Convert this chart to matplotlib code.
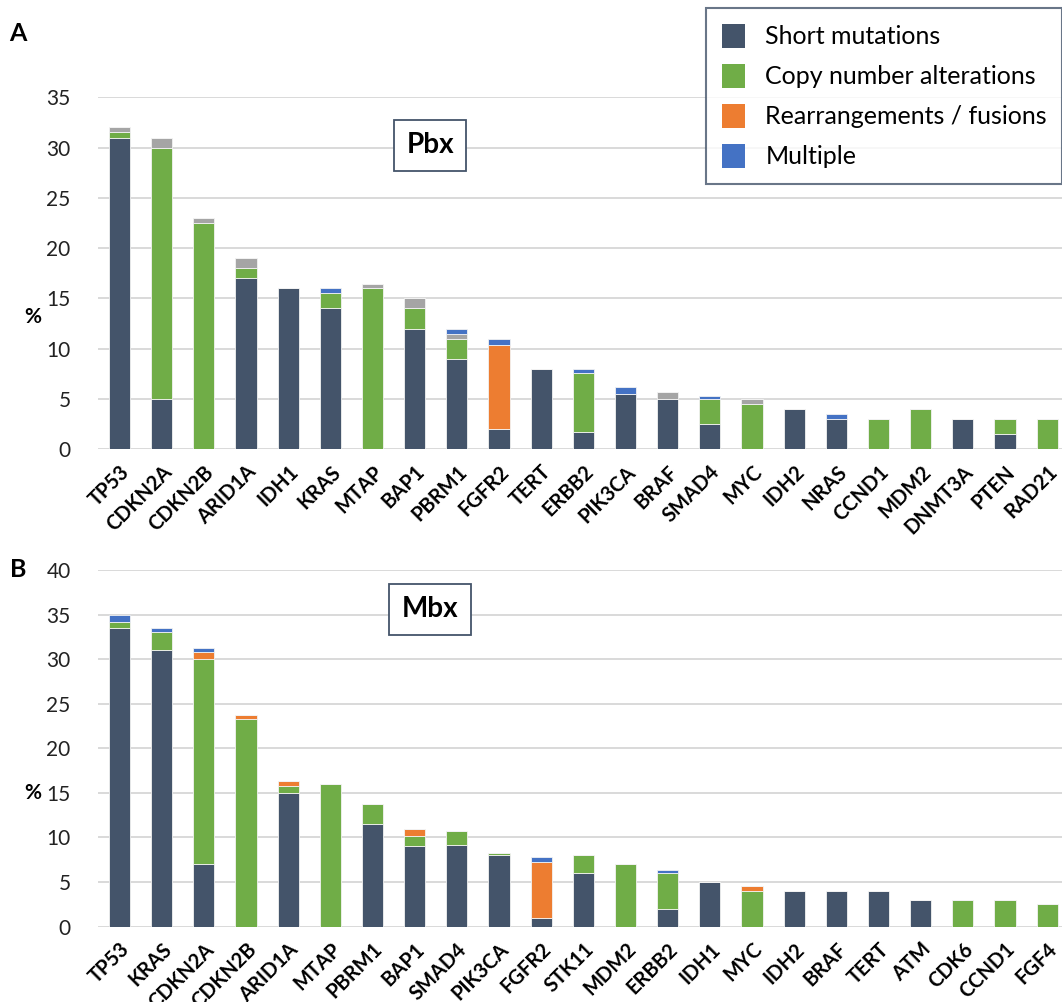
import numpy as np
import matplotlib
matplotlib.use("Agg")
import matplotlib.pyplot as plt
from matplotlib.patches import Patch

plt.rcParams["font.family"] = ["Lato", "DejaVu Sans"]

# colours used for each alteration type
C_SHORT = "#44546A"
C_CNA = "#70AD47"
C_REARR = "#ED7D31"
C_MULTI = "#4472C4"
C_OTHER = "#A5A5A5"
GRID = "#D9D9D9"

# panel A: Pbx
pbx_genes = ["TP53", "CDKN2A", "CDKN2B", "ARID1A", "IDH1", "KRAS", "MTAP", "BAP1",
             "PBRM1", "FGFR2", "TERT", "ERBB2", "PIK3CA", "BRAF", "SMAD4", "MYC",
             "IDH2", "NRAS", "CCND1", "MDM2", "DNMT3A", "PTEN", "RAD21"]
pbx_short = [31, 5, 0, 17, 16, 14, 0, 12, 9, 2, 8, 1.7, 5.5, 5, 2.5, 0, 4, 3, 0, 0, 3, 1.5, 0]
pbx_cna = [0.5, 25, 22.5, 1, 0, 1.5, 16, 2, 2, 0, 0, 5.9, 0, 0, 2.5, 4.5, 0, 0, 3, 4, 0, 1.5, 3]
pbx_rearr = [0, 0, 0, 0, 0, 0, 0, 0, 0, 8.4, 0, 0, 0, 0, 0, 0, 0, 0, 0, 0, 0, 0, 0]
pbx_other = [0.5, 1, 0.5, 1, 0, 0, 0.4, 1, 0.5, 0, 0, 0, 0, 0.7, 0, 0.5, 0, 0, 0, 0, 0, 0, 0]
pbx_multi = [0, 0, 0, 0, 0, 0.5, 0, 0, 0.5, 0.6, 0, 0.4, 0.7, 0, 0.25, 0, 0, 0.5, 0, 0, 0, 0, 0]

# panel B: Mbx
mbx_genes = ["TP53", "KRAS", "CDKN2A", "CDKN2B", "ARID1A", "MTAP", "PBRM1", "BAP1",
             "SMAD4", "PIK3CA", "FGFR2", "STK11", "MDM2", "ERBB2", "IDH1", "MYC",
             "IDH2", "BRAF", "TERT", "ATM", "CDK6", "CCND1", "FGF4"]
mbx_short = [33.5, 31, 7, 0, 15, 0, 11.5, 9, 9.2, 8, 1, 6, 0, 2, 5, 0, 4, 4, 4, 3, 0, 0, 0]
mbx_cna = [0.7, 2, 23, 23.25, 0.8, 16, 2.3, 1.2, 1.5, 0.25, 0, 2, 7, 4, 0, 4, 0, 0, 0, 0, 3, 3, 2.5]
mbx_rearr = [0, 0, 0.8, 0.5, 0.5, 0, 0, 0.7, 0, 0, 6.3, 0, 0, 0, 0, 0.6, 0, 0, 0, 0, 0, 0, 0]
mbx_other = [0] * 23
mbx_multi = [0.7, 0.5, 0.5, 0, 0, 0, 0, 0, 0, 0, 0.5, 0, 0, 0.3, 0, 0, 0, 0, 0, 0, 0, 0, 0]


def stacked(ax, genes, layers, ymax, step, title, title_xy, letter, letter_y):
    x = np.arange(len(genes))
    bottom = np.zeros(len(genes))
    for vals, col in layers:
        vals = np.asarray(vals, dtype=float)
        ax.bar(x, vals, 0.5, bottom=bottom, color=col, edgecolor="#F2F2F2",
               linewidth=0.6, zorder=3)
        bottom += vals
    ax.set_xlim(-0.5, len(genes) - 0.5)
    ax.set_ylim(0, ymax)
    ax.set_yticks(np.arange(0, ymax + 1, step))
    ax.yaxis.grid(True, color=GRID, linewidth=1.4, zorder=0)
    ax.set_axisbelow(True)
    for s in ax.spines.values():
        s.set_visible(False)
    ax.tick_params(axis="both", length=0)
    ax.tick_params(axis="y", labelsize=15, pad=20, labelcolor="#222222")
    ax.set_xticks(x)
    ax.set_xticklabels(genes, rotation=45, ha="right", rotation_mode="anchor",
                       fontsize=14.5, fontweight="bold")
    ax.tick_params(axis="x", pad=9)
    ax.text(-0.068, 0.375, "%", transform=ax.transAxes, fontsize=15,
            fontweight="bold", ha="center", va="center")
    ax.text(title_xy[0], title_xy[1], title, transform=ax.transAxes, fontsize=20,
            fontweight="bold", ha="center", va="center",
            bbox=dict(boxstyle="square,pad=0.45", facecolor="white",
                      edgecolor="#44546A", linewidth=1.3), zorder=5)
    ax.text(-0.083, letter_y, letter, transform=ax.transAxes,
            fontsize=18, fontweight="bold", ha="center", va="center")


fig = plt.figure(figsize=(10.62, 10.02), dpi=100)
ax_a = fig.add_axes([0.0927, 0.5516, 0.9132, 0.3513])
ax_b = fig.add_axes([0.0927, 0.0752, 0.9132, 0.3560])

stacked(ax_a, pbx_genes,
        [(pbx_short, C_SHORT), (pbx_cna, C_CNA), (pbx_rearr, C_REARR),
         (pbx_other, C_OTHER), (pbx_multi, C_MULTI)],
        35, 5, "Pbx", (0.342, 0.864), "A", 1.18)
stacked(ax_b, mbx_genes,
        [(mbx_short, C_SHORT), (mbx_cna, C_CNA), (mbx_rearr, C_REARR),
         (mbx_other, C_OTHER), (mbx_multi, C_MULTI)],
        40, 5, "Mbx", (0.342, 0.89), "B", 1.0)

handles = [Patch(facecolor=C_SHORT, label="Short mutations"),
           Patch(facecolor=C_CNA, label="Copy number alterations"),
           Patch(facecolor=C_REARR, label="Rearrangements / fusions"),
           Patch(facecolor=C_MULTI, label="Multiple")]
leg = fig.legend(handles=handles, loc="upper left",
                 bbox_to_anchor=(706 / 1062, 1 - 8 / 1002), borderaxespad=0,
                 fontsize=18, frameon=True, fancybox=False, handlelength=0.95,
                 handleheight=1.1, handletextpad=0.8, labelspacing=0.62,
                 borderpad=0.62)
leg.get_frame().set_edgecolor("#44546A")
leg.get_frame().set_linewidth(1.5)

fig.savefig("out.png", dpi=100)
